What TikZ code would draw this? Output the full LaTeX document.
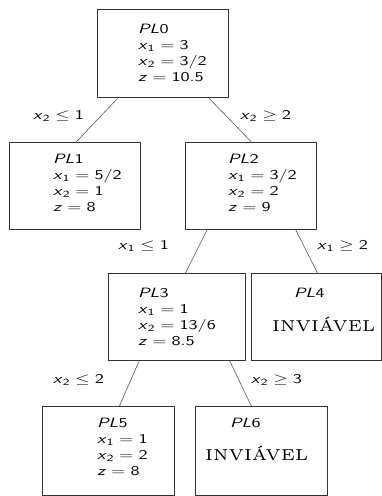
\RequirePackage{fix-cm}
\documentclass[tikz,border=0pt]{standalone}
\usepackage{graphicx}
\usetikzlibrary{calc}
\newcommand\vv[1]{\mbox{\textit{#1}}}
\newcommand\sx[1]{\scalebox{1.37}[1]{#1}}
\newcommand\stk[1]{\sx{\vtop{\baselineskip=16.3pt\lineskiplimit=-30pt\lineskip=0pt\halign{##\hfil\cr#1\crcr}}}}
\newcommand\inv{\resizebox{103pt}{!}{\rmfamily\fontsize{5}{6}\selectfont INVIÁVEL}}
\tikzset{
  box/.style={draw=black!80, line width=0.8pt, rectangle, inner sep=0pt,
    minimum width=131pt, minimum height=88pt, anchor=north west},
  txt/.style={inner sep=0pt, anchor=base west, font=\sffamily\fontsize{13.5}{16.3}\selectfont},
  edge/.style={draw=black!65, line width=0.6pt},
}
\begin{document}
\begin{tikzpicture}[x=1pt,y=-1pt]
\useasboundingbox (0,0) rectangle (382,496);
% boxes
\node[box] (pl0) at (97,9) {};
\node[box, minimum height=87pt] (pl1) at (9,142) {};
\node[box, minimum height=87pt] (pl2) at (185,142) {};
\node[box, minimum width=137pt, minimum height=87pt] (pl3) at (108,273) {};
\node[box, minimum width=130pt, minimum height=87pt] (pl4) at (251,273) {};
\node[box, minimum width=132pt, minimum height=89pt] (pl5) at (42,406) {};
\node[box, minimum width=132pt, minimum height=89pt] (pl6) at (195,406) {};
% box texts
\node[txt] (pl0t) at (138,33) {\stk{\vv{PL}0\cr $\vv{x}_{\mathsf 1}=\mathsf{3}$\cr $\vv{x}_{\mathsf 2}=\mathsf{3/2}$\cr $\vv{z}=\mathsf{10.5}$}};
\node[txt] (pl1t) at (53,163) {\stk{\vv{PL}1\cr $\vv{x}_{\mathsf 1}=\mathsf{5/2}$\cr $\vv{x}_{\mathsf 2}=\mathsf{1}$\cr $\vv{z}=\mathsf{8}$}};
\node[txt] (pl2t) at (228,163) {\stk{\vv{PL}2\cr $\vv{x}_{\mathsf 1}=\mathsf{3/2}$\cr $\vv{x}_{\mathsf 2}=\mathsf{2}$\cr $\vv{z}=\mathsf{9}$}};
\node[txt] (pl3t) at (138,297) {\stk{\vv{PL}3\cr $\vv{x}_{\mathsf 1}=\mathsf{1}$\cr $\vv{x}_{\mathsf 2}=\mathsf{13/6}$\cr $\vv{z}=\mathsf{8.5}$}};
\node[txt] (pl4t) at (294,297) {\sx{\vv{PL}4}};
\node[txt] (pl4i) at (272,331) {\inv};
\node[txt] (pl5t) at (97,427) {\stk{\vv{PL}5\cr $\vv{x}_{\mathsf 1}=\mathsf{1}$\cr $\vv{x}_{\mathsf 2}=\mathsf{2}$\cr $\vv{z}=\mathsf{8}$}};
\node[txt] (pl6t) at (230,427) {\sx{\vv{PL}6}};
\node[txt] (pl6i) at (205,460) {\inv};
% connectors
\draw[edge] ($(pl0.south west)!0.16!(pl0.south east)$) -- ($(pl1.north west)!0.51!(pl1.north east)$);
\draw[edge] ($(pl0.south west)!0.847!(pl0.south east)$) -- ($(pl2.north west)!0.504!(pl2.north east)$);
\draw[edge] ($(pl2.south west)!0.168!(pl2.south east)$) -- ($(pl3.north west)!0.562!(pl3.north east)$);
\draw[edge] ($(pl2.south west)!0.84!(pl2.south east)$) -- ($(pl4.north west)!0.508!(pl4.north east)$);
\draw[edge] ($(pl3.south west)!0.226!(pl3.south east)$) -- ($(pl5.north west)!0.583!(pl5.north east)$);
\draw[edge] ($(pl3.south west)!0.883!(pl3.south east)$) -- ($(pl6.north west)!0.424!(pl6.north east)$);
% labels
\node[txt] (l1) at (33,119) {\sx{$\vv{x}_{\mathsf 2}\leq\mathsf{1}$}};
\node[txt] (l2) at (240,119) {\sx{$\vv{x}_{\mathsf 2}\geq\mathsf{2}$}};
\node[txt] (l3) at (118,249) {\sx{$\vv{x}_{\mathsf 1}\leq\mathsf{1}$}};
\node[txt] (l4) at (317,249) {\sx{$\vv{x}_{\mathsf 1}\geq\mathsf{2}$}};
\node[txt] (l5) at (53,383) {\sx{$\vv{x}_{\mathsf 2}\leq\mathsf{2}$}};
\node[txt] (l6) at (251,383) {\sx{$\vv{x}_{\mathsf 2}\geq\mathsf{3}$}};
\end{tikzpicture}
\end{document}
